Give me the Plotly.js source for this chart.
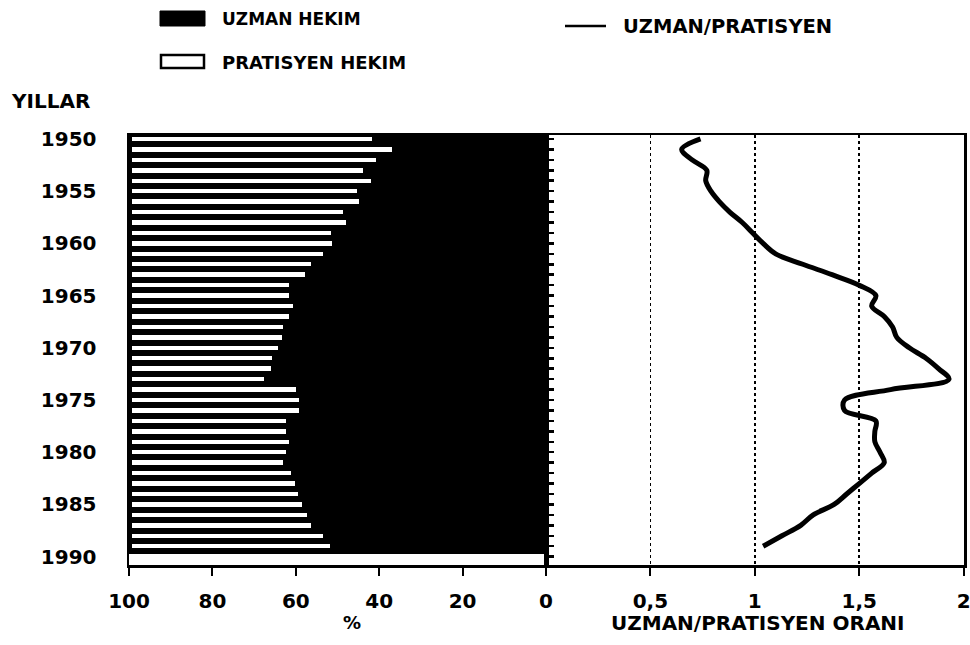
<!DOCTYPE html>
<html>
<head>
<meta charset="utf-8">
<script src="https://cdn.plot.ly/plotly-3.0.1.min.js"></script>
<style>html,body{margin:0;padding:0;background:#fff;}#chart{width:970px;height:645px;}</style>
</head>
<body>
<div id="chart"></div>
<script>
// ---- data ----
const years = [1950,1951,1952,1953,1954,1955,1956,1957,1958,1959,
               1960,1961,1962,1963,1964,1965,1966,1967,1968,1969,
               1970,1971,1972,1973,1974,1975,1976,1977,1978,1979,
               1980,1981,1982,1983,1984,1985,1986,1987,1988,1989];
// % share of specialists (uzman hekim)
const uzmanPct = [41.1,36.3,40.0,43.1,41.3,44.5,44.1,48.0,47.2,50.8,
                  50.5,52.8,55.7,57.0,61.0,60.8,60.0,61.0,62.4,62.6,
                  63.6,65.0,65.2,66.8,59.2,58.4,58.4,61.7,61.7,61.0,
                  61.7,62.4,60.5,59.5,58.8,57.8,56.6,55.7,52.8,51.1];
// % share of general practitioners (pratisyen hekim)
const pratisyenPct = [58.9,63.7,60.0,56.9,58.7,55.5,55.9,52.0,52.8,49.2,
                      49.5,47.2,44.3,43.0,39.0,39.2,40.0,39.0,37.6,37.4,
                      36.4,35.0,34.8,33.2,40.8,41.6,41.6,38.3,38.3,39.0,
                      38.3,37.6,39.5,40.5,41.2,42.2,43.4,44.3,47.2,48.9];
// specialist / practitioner ratio
const ratio = [0.74,0.65,0.70,0.77,0.765,0.79,0.83,0.88,0.94,0.99,
               1.04,1.10,1.23,1.37,1.50,1.58,1.56,1.62,1.66,1.68,
               1.74,1.82,1.88,1.93,1.65,1.43,1.43,1.58,1.575,1.575,
               1.60,1.62,1.56,1.50,1.44,1.38,1.28,1.22,1.13,1.04];
const yearTicks = [1950,1955,1960,1965,1970,1975,1980,1985,1990];
const pctTicks = [0,20,40,60,80,100];
const ratioTicks = [0.5,1,1.5,2];
const ratioTickText = ['0,5','1','1,5','2'];
const seriesNames = ['UZMAN HEKIM','PRATISYEN HEKIM','UZMAN/PRATISYEN'];
const titles = {years:'YILLAR', pct:'%', ratio:'UZMAN/PRATISYEN ORANI'};

// ---- layout helpers ----
const W = 970, H = 645;
const M = {l:129, r:6, t:135, b:80};
const PW = W - M.l - M.r, PH = H - M.t - M.b;
const px = v => (v - M.l) / PW;
const py = v => 1 - (v - M.t) / PH;
const FAM = 'DejaVu Sans';
const bold = (s) => ({family: FAM, size: s, color: '#000', weight: 'bold'});

const traces = [
  {type:'bar', orientation:'h', name:seriesNames[0], x:uzmanPct, y:years,
   xaxis:'x', yaxis:'y', width:1,
   marker:{color:'#000', line:{color:'#000', width:6}}, hoverinfo:'skip'},
  {type:'bar', orientation:'h', name:seriesNames[1], x:pratisyenPct, y:years,
   xaxis:'x', yaxis:'y', width:1,
   marker:{color:'#fff', line:{color:'#000', width:6}}, hoverinfo:'skip'},
  {type:'scatter', mode:'lines', name:seriesNames[2], x:ratio, y:years,
   xaxis:'x2', yaxis:'y2', cliponaxis:false,
   line:{color:'#000', width:5, shape:'spline', smoothing:1.0}, hoverinfo:'skip'}
];

const yRange = [1990.8, 1949.62];
const split = (546 - M.l) / PW;

const layout = {
  width: W, height: H,
  margin: M,
  paper_bgcolor:'#fff', plot_bgcolor:'#fff',
  showlegend:false,
  barmode:'stack', bargap:0,
  font: bold(19),
  xaxis:{domain:[0, split], range:[100,0], anchor:'y',
    tickvals:pctTicks, ticks:'outside', ticklen:8, tickwidth:2, tickcolor:'#000',
    ticklabelstandoff:8, ticklabeloverflow:'allow',
    showline:true, mirror:true, linecolor:'#000', linewidth:2.5,
    showgrid:false, zeroline:false, tickfont:bold(20)},
  yaxis:{domain:[0,1], range:yRange, anchor:'x',
    tickvals:yearTicks, ticks:'outside', ticklen:26, tickcolor:'rgba(0,0,0,0)',
    showline:true, mirror:true, linecolor:'#000', linewidth:2.5,
    showgrid:false, zeroline:false, tickfont:bold(20)},
  xaxis2:{domain:[split,1], range:[0,2.002], anchor:'y2',
    tickvals:ratioTicks, ticktext:ratioTickText, ticks:'outside', ticklen:8, tickwidth:2, tickcolor:'#000',
    ticklabelstandoff:8, ticklabeloverflow:'allow',
    showline:true, mirror:true, linecolor:'#000', linewidth:2.5,
    showgrid:true, gridcolor:'#000', gridwidth:1.5, griddash:'dot',
    zeroline:false, tickfont:bold(20)},
  yaxis2:{domain:[0,1], range:yRange, anchor:'x2', side:'left',
    tick0:1950, dtick:1, ticks:'inside', ticklen:8, tickwidth:2.5, tickcolor:'#000',
    showticklabels:false,
    showline:true, mirror:true, linecolor:'#000', linewidth:2.5,
    showgrid:false, zeroline:false},
  shapes:[
    {type:'rect', xref:'paper', yref:'paper', x0:px(160), x1:px(205), y0:py(11), y1:py(26),
     fillcolor:'#000', line:{color:'#000', width:1}},
    {type:'rect', xref:'paper', yref:'paper', x0:px(161), x1:px(204), y0:py(55), y1:py(68),
     fillcolor:'#fff', line:{color:'#000', width:2.5}},
    {type:'line', xref:'paper', yref:'paper', x0:px(565), x1:px(606), y0:py(26), y1:py(26),
     line:{color:'#000', width:2.5}}
  ],
  annotations:[
    {xref:'paper', yref:'paper', x:px(220), y:py(19), xanchor:'left', yanchor:'middle',
     text:seriesNames[0], showarrow:false, font:bold(17)},
    {xref:'paper', yref:'paper', x:px(220), y:py(62), xanchor:'left', yanchor:'middle',
     text:seriesNames[1], showarrow:false, font:bold(18)},
    {xref:'paper', yref:'paper', x:px(621), y:py(26), xanchor:'left', yanchor:'middle',
     text:seriesNames[2], showarrow:false, font:bold(19.5)},
    {xref:'paper', yref:'paper', x:px(9), y:py(101), xanchor:'left', yanchor:'middle',
     text:titles.years, showarrow:false, font:bold(20)},
    {xref:'paper', yref:'paper', x:px(352), y:py(622), xanchor:'center', yanchor:'middle',
     text:titles.pct, showarrow:false, font:bold(18)},
    {xref:'paper', yref:'paper', x:px(758), y:py(623), xanchor:'center', yanchor:'middle',
     text:titles.ratio, showarrow:false, font:bold(20)}
  ]
};

Plotly.newPlot('chart', traces, layout, {staticPlot:true, displayModeBar:false});
</script>
</body>
</html>
